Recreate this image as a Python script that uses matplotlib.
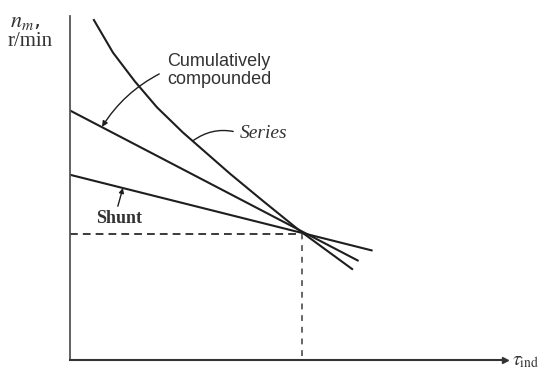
import matplotlib
matplotlib.use('Agg')
from matplotlib import pyplot as plt

plt.rcParams['mathtext.fontset'] = 'stix'

# speed (per unit of rated) vs induced torque (per unit of rated)
shunt_t = [0.0, 1.30]
shunt_n = [1.47, 0.87]

cumul_t = [0.0, 1.24]
cumul_n = [1.98, 0.79]

series_t = [0.103, 0.185, 0.280, 0.375, 0.487, 0.690, 0.832, 0.991, 1.216]
series_n = [2.698, 2.440, 2.210, 2.005, 1.805, 1.478, 1.262, 1.025, 0.722]

rated_t = 1.0
rated_n = 1.0

ink = '#1e1e1e'
txt = '#333333'

fig = plt.figure(figsize=(5.44, 3.74), dpi=100)
ax = fig.add_axes([70/544, 14/374, 435/544, 344/374])
ax.set_xlim(0, 1.875)
ax.set_ylim(0, 2.73)

for s in ['top', 'right']:
    ax.spines[s].set_visible(False)
ax.spines['left'].set_color('#555555')
ax.spines['bottom'].set_color('#333333')
ax.spines['left'].set_linewidth(1.3)
ax.spines['bottom'].set_linewidth(1.5)
ax.set_xticks([])
ax.set_yticks([])
ax.plot(1, 0, marker='>', color='#333333', ms=5, clip_on=False,
        transform=ax.transAxes)

ax.plot(series_t, series_n, color=ink, lw=1.5)
ax.plot(cumul_t, cumul_n, color=ink, lw=1.5)
ax.plot(shunt_t, shunt_n, color=ink, lw=1.5)

ax.plot([0, rated_t], [rated_n, rated_n], color='#3a3a3a', lw=1.4,
        dashes=(4, 2.6))
ax.plot([rated_t, rated_t], [0.03, rated_n], color='#666666', lw=1.4,
        dashes=(3, 3))

ax.annotate('Cumulatively\ncompounded', xy=(0.138, 1.85), xytext=(0.418, 2.30),
            ha='left', va='center', fontsize=13, family='Liberation Sans',
            color=txt, linespacing=1.05,
            arrowprops=dict(arrowstyle='-|>', color=ink, lw=1.0,
                            mutation_scale=8, shrinkA=4, shrinkB=0,
                            relpos=(0.0, 0.5),
                            connectionstyle='arc3,rad=0.15'))
ax.annotate('Series', xy=(0.53, 1.74), xytext=(0.733, 1.80),
            ha='left', va='center', fontsize=14, family='Liberation Serif',
            style='italic', color=txt,
            arrowprops=dict(arrowstyle='-', color=ink, lw=1.0,
                            shrinkA=3, shrinkB=0, relpos=(0.0, 0.5),
                            connectionstyle='arc3,rad=0.25'))
ax.annotate('Shunt', xy=(0.228, 1.365), xytext=(0.112, 1.12),
            ha='left', va='center', fontsize=13, family='Liberation Serif',
            weight='bold', color=txt,
            arrowprops=dict(arrowstyle='-|>', color=ink, lw=1.0,
                            mutation_scale=7, shrinkA=1, shrinkB=0,
                            relpos=(0.45, 1.0),
                            connectionstyle='arc3,rad=0.0'))

fig.text(10/544, 1 - 22/374, r'$n_m$,', fontsize=16, color=txt,
         va='center', ha='left')
fig.text(8/544, 1 - 42/374, 'r/min', fontsize=15, family='Liberation Serif',
         color=txt, va='center', ha='left')
fig.text(512/544, 1 - 361/374, r'$\tau_{\rm ind}$', fontsize=14,
         color=txt, va='center', ha='left')

fig.savefig('out.png', dpi=100)
